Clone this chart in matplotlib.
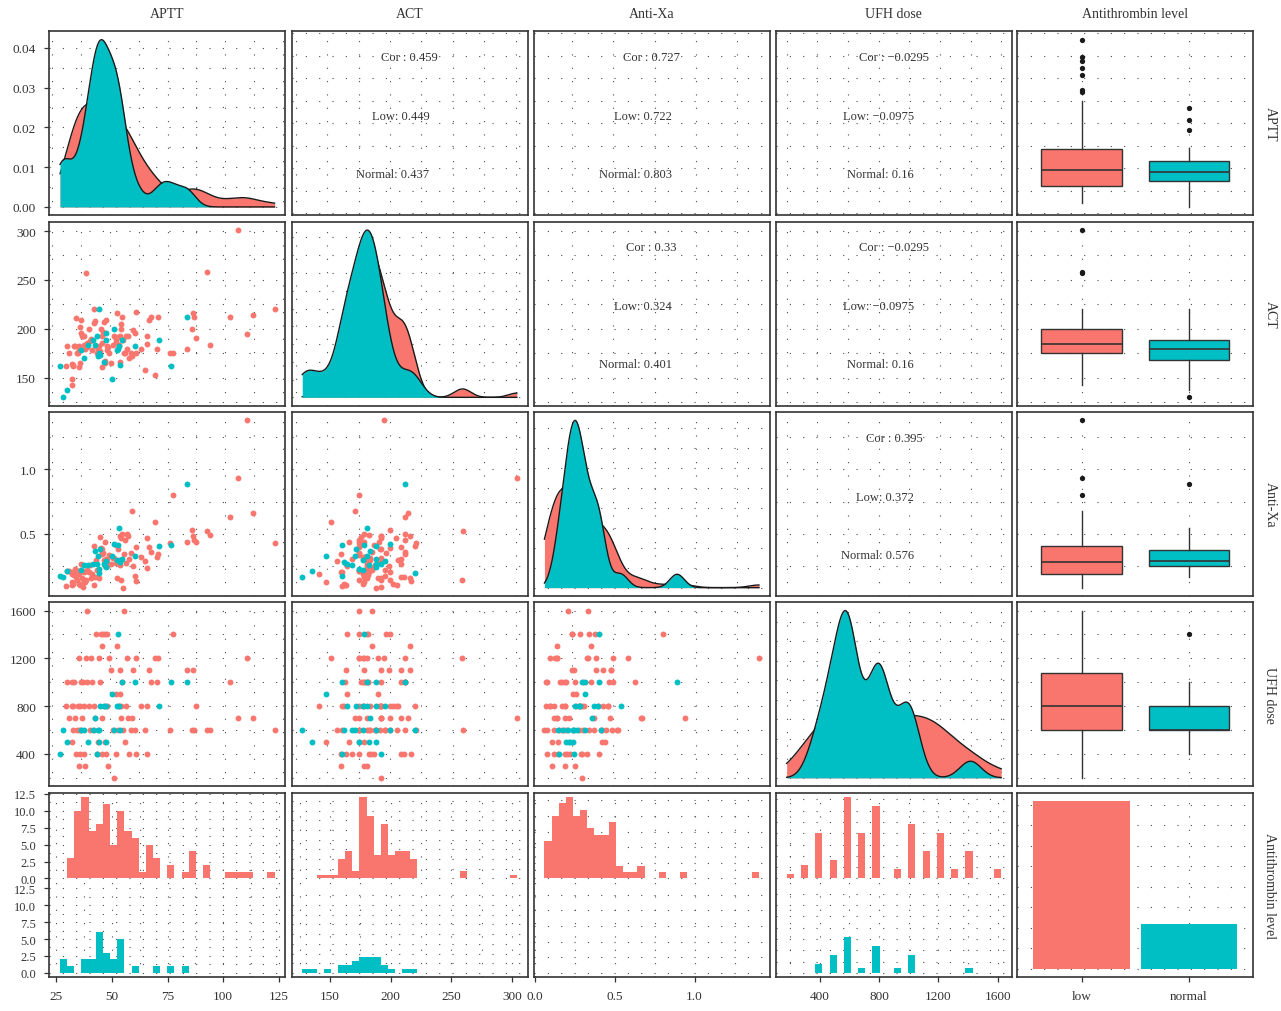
import numpy as np
import matplotlib
matplotlib.use("Agg")
import matplotlib.pyplot as plt
from matplotlib.ticker import MaxNLocator

plt.rcParams["font.family"] = ["Liberation Serif", "DejaVu Serif"]

# ---------------- data (one entry per patient) ----------------
# antithrombin level = low
aptt_low = [121.4, 112.0, 109.5, 105.5, 102.0, 93.6, 92.2, 87.2, 86.6, 86.0,
            85.4, 83.6, 77.3, 76.2, 71.0, 70.6, 69.5, 67.8, 67.0, 66.3,
            66.0, 65.4, 63.5, 61.5, 61.2, 60.8, 60.2, 59.6, 59.0, 58.4,
            58.0, 57.6, 57.2, 56.6, 56.0, 55.8, 55.2, 55.0, 54.8, 54.6,
            54.3, 53.9, 53.5, 53.1, 52.8, 52.6, 52.0, 51.2, 50.5, 49.8,
            49.4, 48.9, 48.6, 48.3, 48.0, 47.7, 47.4, 47.1, 46.8, 46.6,
            46.4, 46.2, 45.6, 45.2, 44.8, 44.4, 44.0, 43.6, 43.2, 43.0,
            42.3, 41.8, 41.3, 40.8, 40.3, 39.9, 39.8, 39.2, 38.9, 38.6,
            38.3, 38.0, 37.7, 37.4, 37.1, 36.9, 36.6, 36.5, 36.5, 36.0,
            35.6, 35.2, 34.8, 34.5, 34.2, 33.9, 33.7, 33.5, 33.4, 32.5,
            31.6, 30.8]
act_low = [220.5, 214.5, 195, 301, 212, 183, 258, 191, 212, 216,
           200, 179, 175, 175, 212, 179, 153, 212, 209, 193,
           185, 158, 179, 217, 175.5, 196, 199, 172.4, 175, 170,
           192.4, 179, 192.4, 175, 175, 188.7, 212, 205, 200, 166,
           192.4, 184, 192, 216, 190, 187, 193, 184, 165, 175,
           181.6, 182, 178.5, 208.7, 165.6, 167, 206.7, 196.5, 161, 192.4,
           185.6, 200, 177, 182, 179, 175.5, 182.6, 208.4, 205.7, 220,
           178.5, 190, 187.7, 200, 185.3, 181, 257.6, 179, 183.3, 192.4,
           192.4, 192.4, 208.7, 196, 202, 165, 161, 182, 178.5, 175,
           175, 211, 182, 182.6, 163, 162, 164, 149, 143, 175,
           182.6, 162]
antixa_low = [0.43, 0.664, 1.38, 0.93, 0.633, 0.49, 0.52, 0.436, 0.454, 0.487,
              0.53, 0.44, 0.80, 0.426, 0.346, 0.318, 0.59, 0.362, 0.397, 0.47,
              0.236, 0.292, 0.323, 0.138, 0.397, 0.174, 0.25, 0.674, 0.354, 0.305,
              0.48, 0.497, 0.272, 0.451, 0.346, 0.083, 0.497, 0.47, 0.141, 0.256,
              0.487, 0.295, 0.382, 0.16, 0.274, 0.41, 0.31, 0.315, 0.264, 0.338,
              0.269, 0.249, 0.308, 0.308, 0.249, 0.433, 0.30, 0.35, 0.34, 0.382,
              0.362, 0.39, 0.474, 0.158, 0.167, 0.218, 0.30, 0.162, 0.10, 0.405,
              0.192, 0.159, 0.256, 0.205, 0.223, 0.213, 0.146, 0.126, 0.207, 0.141,
              0.09, 0.16, 0.269, 0.218, 0.115, 0.10, 0.205, 0.187, 0.115, 0.21,
              0.141, 0.165, 0.23, 0.18, 0.115, 0.205, 0.10, 0.126, 0.187, 0.21,
              0.21, 0.095]
ufh_low = [600, 700, 1200, 700, 1000, 600, 600, 800, 600, 1100,
           600, 1100, 1400, 600, 1200, 1000, 1200, 1000, 1100, 800,
           400, 600, 800, 400, 1200, 600, 1100, 700, 600, 400,
           700, 1200, 800, 500, 1600, 600, 1000, 800, 700, 900,
           1100, 800, 600, 1300, 900, 400, 200, 600, 1100, 1200,
           300, 1400, 800, 400, 1400, 500, 800, 1400, 400, 700,
           1300, 1400, 1000, 1200, 500, 400, 1400, 700, 600, 800,
           1000, 1200, 600, 800, 1600, 1000, 1200, 300, 400, 800,
           1000, 700, 1000, 600, 800, 400, 300, 600, 1200, 800,
           600, 400, 700, 1000, 800, 600, 1000, 500, 800, 700,
           1000, 800]

# antithrombin level = normal
aptt_normal = [28.4, 29.6, 31.6, 37.6, 38.9, 40.5, 42.5, 43.4, 44.4, 45.3,
               44.9, 45.6, 45.5, 48.2, 48.5, 47.6, 50.8, 51.9, 53.2, 53.6,
               54.0, 54.3, 55.2, 61.1, 71.4, 76.6, 83.5]
act_normal = [162, 130, 138, 178.5, 170, 183, 189, 184, 193, 220,
              172, 173, 175, 196, 189, 166, 149, 200, 178.5, 179,
              182, 163, 189, 182, 189, 162, 212]
antixa_normal = [0.174, 0.167, 0.215, 0.223, 0.256, 0.256, 0.264, 0.37, 0.264, 0.195,
                 0.326, 0.38, 0.23, 0.29, 0.24, 0.27, 0.33, 0.423, 0.30, 0.415,
                 0.544, 0.28, 0.308, 0.328, 0.405, 0.415, 0.885]
ufh_normal = [400, 600, 500, 600, 600, 500, 600, 700, 400, 600,
              600, 800, 500, 800, 500, 800, 900, 600, 800, 1400,
              800, 600, 1000, 1000, 800, 1000, 1000]

variables = ["APTT", "ACT", "Anti-Xa", "UFH dose"]
strip_labels = ["APTT", "ACT", "Anti-Xa", "UFH dose", "Antithrombin level"]
group_labels = ["low", "normal"]

# axis breaks (tick labels) of each variable
var_breaks = [[25, 50, 75, 100, 125],
              [150, 200, 250, 300],
              [0.0, 0.5, 1.0],
              [400, 800, 1200, 1600]]

# correlation text of the upper panels
upper_cells = [(0, 1), (0, 2), (0, 3), (1, 2), (1, 3), (2, 3)]
cor_all = ["0.459", "0.727", "\u22120.0295", "0.33", "\u22120.0295", "0.395"]
cor_low = ["0.449", "0.722", "\u22120.0975", "0.324", "\u22120.0975", "0.372"]
cor_normal = ["0.437", "0.803", "0.16", "0.401", "0.16", "0.576"]

low = [np.array(aptt_low), np.array(act_low), np.array(antixa_low), np.array(ufh_low)]
normal = [np.array(aptt_normal), np.array(act_normal), np.array(antixa_normal),
          np.array(ufh_normal)]

LOW_COL = "#F8766D"
NORM_COL = "#00BFC4"
INK = "#333333"
GRID_COL = "#4d4d4d"


def expand(lo, hi, f=0.05):
    d = (hi - lo) * f
    return lo - d, hi + d


def gg_edges(x):
    # ggplot2 default: 30 bins, first and last bin centred on the range ends
    lo, hi = np.min(x), np.max(x)
    w = (hi - lo) / 29
    return lo - w / 2 + w * np.arange(31)


def kde(x, grid):
    sd = np.std(x, ddof=1)
    q75, q25 = np.percentile(x, [75, 25])
    bw = 0.9 * min(sd, (q75 - q25) / 1.34) * len(x) ** -0.2
    z = (grid[:, None] - x[None, :]) / bw
    return np.exp(-0.5 * z ** 2).sum(axis=1) / (len(x) * bw * np.sqrt(2 * np.pi))


def pretty(lo, hi):
    return list(MaxNLocator(nbins=5, steps=[1, 2, 2.5, 5, 10]).tick_values(lo, hi))


def with_minor(major):
    step = major[1] - major[0]
    minor = [major[0] - step / 2] + [m + step / 2 for m in major]
    return sorted(major + minor)


def vgrid(ax, xs, lim):
    for x in xs:
        if lim[0] < x < lim[1]:
            ax.axvline(x, color=GRID_COL, lw=0.8, ls=(0, (1, 11)), zorder=0.5)


def hgrid(ax, ys, lim):
    for y in ys:
        if lim[0] < y < lim[1]:
            ax.axhline(y, color=GRID_COL, lw=0.8, ls=(0, (1, 11)), zorder=0.5)


def fmt(v, j):
    return f"{v:.1f}" if j == 2 else f"{v:g}"


W, H = 1281, 1012
col_x = [49.3, 291.5, 533.7, 775.9, 1017.3]
row_y = [32.3, 222.7, 413.0, 603.2, 794.0]
PW, PH = 236, 184

fig = plt.figure(figsize=(W / 100, H / 100), dpi=100)

tick_kw = dict(length=3.5, width=0.9, color=INK, labelsize=9.5, labelcolor=INK)

for i in range(5):
    for j in range(5):
        ax = fig.add_axes([col_x[j] / W, 1 - (row_y[i] + PH) / H, PW / W, PH / H])
        for sp in ax.spines.values():
            sp.set_color(INK)
            sp.set_linewidth(1.2)
            sp.set_zorder(5)
        ax.set_xticks([])
        ax.set_yticks([])

        if i < 4 and j < 4:
            xall = np.concatenate([low[j], normal[j]])
            xlim = expand(xall.min(), xall.max())
            ax.set_xlim(xlim)
            vgrid(ax, with_minor(var_breaks[j]), xlim)
            if i == j:
                grid = np.linspace(xall.min(), xall.max(), 512)
                d_low = kde(low[j], grid)
                d_norm = kde(normal[j], grid)
                dmax = max(d_low.max(), d_norm.max())
                ylim = (-0.05 * dmax, 1.05 * dmax)
                ax.set_ylim(ylim)
                ybr = [v for v in pretty(0, dmax) if ylim[0] <= v <= ylim[1]]
                hgrid(ax, with_minor(ybr), ylim)
                ax.fill_between(grid, d_low, color=LOW_COL, lw=0, zorder=2)
                ax.plot(grid, d_low, color="#1a1a1a", lw=1.0, zorder=2.1)
                ax.fill_between(grid, d_norm, color=NORM_COL, lw=0, zorder=2.2)
                ax.plot(grid, d_norm, color="#1a1a1a", lw=1.0, zorder=2.3)
                if j == 0:
                    ax.set_yticks(ybr)
                    ax.set_yticklabels([f"{v:.2f}" for v in ybr])
            else:
                yall = np.concatenate([low[i], normal[i]])
                ylim = expand(yall.min(), yall.max())
                ax.set_ylim(ylim)
                hgrid(ax, with_minor(var_breaks[i]), ylim)
                if i > j:
                    ax.scatter(low[j], low[i], s=18, color=LOW_COL, lw=0, zorder=2)
                    ax.scatter(normal[j], normal[i], s=18, color=NORM_COL, lw=0, zorder=2)
                    if j == 0:
                        yb = [v for v in var_breaks[i] if ylim[0] <= v <= ylim[1]]
                        ax.set_yticks(yb)
                        ax.set_yticklabels([fmt(v, i) for v in yb])
                else:
                    k = upper_cells.index((i, j))
                    ax.text(0.5, 0.86, "Cor : " + cor_all[k], transform=ax.transAxes,
                            ha="center", va="center", fontsize=9, color=INK)
                    ax.text(0.585, 0.54, "Low: " + cor_low[k], transform=ax.transAxes,
                            ha="right", va="center", fontsize=9, color=INK)
                    ax.text(0.585, 0.224, "Normal: " + cor_normal[k], transform=ax.transAxes,
                            ha="right", va="center", fontsize=9, color=INK)

        elif j == 4 and i < 4:
            yall = np.concatenate([low[i], normal[i]])
            ylim = expand(yall.min(), yall.max())
            ax.set_xlim(0.4, 2.6)
            ax.set_ylim(ylim)
            vgrid(ax, [1, 2], (0.4, 2.6))
            hgrid(ax, with_minor(var_breaks[i]), ylim)
            bp = ax.boxplot([low[i], normal[i]], positions=[1, 2], widths=0.75,
                            patch_artist=True, showcaps=False,
                            medianprops=dict(color=INK, lw=1.2),
                            whiskerprops=dict(color=INK, lw=1.0),
                            boxprops=dict(edgecolor=INK, lw=1.0),
                            flierprops=dict(marker="o", markerfacecolor="#1a1a1a",
                                            markeredgecolor="none", markersize=3.8))
            for patch, c in zip(bp["boxes"], [LOW_COL, NORM_COL]):
                patch.set_facecolor(c)
                patch.set_zorder(2)
            ax.set_xticks([])

        elif i == 4 and j < 4:
            xall = np.concatenate([low[j], normal[j]])
            edges = gg_edges(xall)
            w = edges[1] - edges[0]
            centers = (edges[:-1] + edges[1:]) / 2
            c_low = np.histogram(low[j], edges)[0]
            c_norm = np.histogram(normal[j], edges)[0]
            # the reference shows no "normal" bars in the Anti-Xa facet
            draw_norm = variables[j] != "Anti-Xa"
            M = max(c_low.max(), c_norm.max() if draw_norm else 0)
            fh = 1.1 * M
            gap = 0.06 * M
            base = fh + gap
            ylim = (-0.05 * M, -0.05 * M + 2 * fh + gap)
            xlim = expand(edges[0], edges[-1])
            ax.set_xlim(xlim)
            ax.set_ylim(ylim)
            vgrid(ax, with_minor(var_breaks[j]), xlim)
            ybr = [v for v in pretty(0, M) if -0.05 * M <= v <= 1.05 * M]
            for off in (0, base):
                hgrid(ax, [v + off for v in with_minor(ybr)],
                      (off - 0.05 * M, off + 1.05 * M))
            m = c_low > 0
            ax.bar(centers[m], c_low[m], width=w, bottom=base, color=LOW_COL,
                   lw=0, zorder=2)
            if draw_norm:
                m = c_norm > 0
                ax.bar(centers[m], c_norm[m], width=w, color=NORM_COL, lw=0, zorder=2)
            xb = [v for v in var_breaks[j] if xlim[0] <= v <= xlim[1]]
            ax.set_xticks(xb)
            ax.set_xticklabels([fmt(v, j) for v in xb])
            if j == 0:
                ax.set_yticks([v + base for v in ybr] + ybr)
                ax.set_yticklabels([f"{v:.1f}" for v in ybr] * 2)
                ax.tick_params(axis="y", labelsize=9)

        else:
            counts = [len(low[0]), len(normal[0])]
            ax.set_xlim(0.4, 2.6)
            ylim = expand(0, max(counts))
            ax.set_ylim(ylim)
            vgrid(ax, [1, 2], (0.4, 2.6))
            hgrid(ax, with_minor(pretty(0, max(counts))), ylim)
            ax.bar([1, 2], counts, width=0.9, color=[LOW_COL, NORM_COL], lw=0, zorder=2)
            ax.set_xticks([1, 2])
            ax.set_xticklabels(group_labels)

        ax.tick_params(axis="x", pad=6, **tick_kw)
        if i == 4 and j == 0:
            ax.tick_params(axis="y", pad=6, length=3.5, width=0.9, color=INK,
                           labelsize=9, labelcolor=INK)
        else:
            ax.tick_params(axis="y", pad=6, **tick_kw)

# strip labels
for j in range(5):
    fig.text((col_x[j] + PW / 2) / W, 1 - 14 / H, strip_labels[j],
             ha="center", va="center", fontsize=10, color=INK)
for i in range(5):
    fig.text(1270 / W, 1 - (row_y[i] + PH / 2) / H, strip_labels[i],
             ha="center", va="center", rotation=270, fontsize=10, color=INK)

fig.savefig("out.png", dpi=100)
